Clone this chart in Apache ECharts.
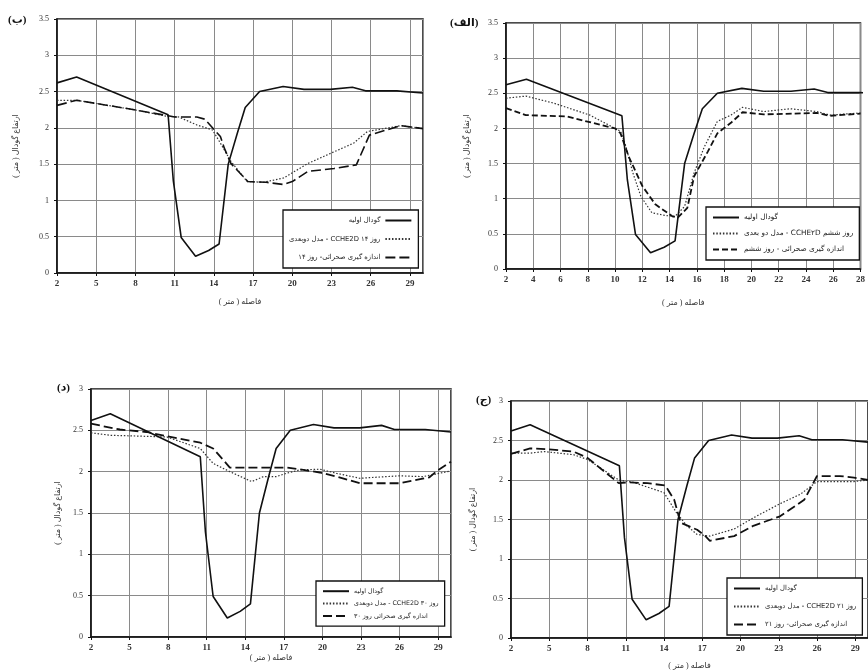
<!DOCTYPE html>
<html>
<head>
<meta charset="utf-8">
<script src="https://cdn.jsdelivr.net/npm/echarts@6/dist/echarts.min.js"></script>
<style>
html,body{margin:0;padding:0;background:#fff;}
#c{width:868px;height:671px;}
</style>
</head>
<body>
<div id="c"></div>
<script>
// ---------- data ----------
const initialX = [2, 3.5, 10.5, 10.9, 11.5, 12.6, 13.6, 14.4, 15.1, 15.8, 16.4, 17.5, 19.3, 20.9, 22.9, 24.6, 25.6, 28, 30];
const initialY = [2.62, 2.70, 2.18, 1.27, 0.49, 0.23, 0.31, 0.40, 1.50, 1.93, 2.28, 2.50, 2.57, 2.53, 2.53, 2.56, 2.51, 2.51, 2.48];

// (الف) day 6
const d6ModelX = [2, 3.45, 5.5, 8.15, 10.0, 10.4, 10.8, 11.3, 11.9, 12.7, 13.7, 14.4, 15.1, 15.8, 16.55, 17.5, 18.5, 19.35, 20.9, 22.85, 24.8, 25.75, 28];
const d6ModelY = [2.43, 2.46, 2.36, 2.19, 2.0, 1.96, 1.74, 1.37, 1.03, 0.80, 0.76, 0.75, 0.89, 1.37, 1.74, 2.10, 2.19, 2.30, 2.24, 2.28, 2.24, 2.19, 2.22];
const d6MeasX = [2, 3.45, 6.45, 10.0, 10.4, 11.0, 12.0, 12.95, 14.2, 14.6, 15.3, 15.8, 16.8, 17.5, 18.5, 19.35, 20.9, 24.8, 25.75, 28];
const d6MeasY = [2.29, 2.19, 2.17, 2.0, 1.93, 1.60, 1.18, 0.92, 0.75, 0.73, 0.87, 1.32, 1.67, 1.93, 2.08, 2.23, 2.20, 2.22, 2.18, 2.21];

// (ب) day 14
const d14ModelX = [2, 3.5, 7.9, 10.4, 11.3, 12.7, 13.9, 14.5, 15.3, 16.55, 17.8, 19.35, 21.2, 23.2, 24.7, 25.75, 28.3, 30];
const d14ModelY = [2.38, 2.38, 2.25, 2.16, 2.15, 2.04, 1.97, 1.79, 1.54, 1.26, 1.25, 1.31, 1.51, 1.67, 1.79, 1.95, 2.03, 1.99];
const d14MeasX = [2, 3.5, 7.9, 10.4, 11.0, 12.7, 13.3, 14.5, 14.8, 15.3, 16.6, 18.0, 19.3, 20.0, 21.2, 23.2, 24.9, 25.9, 28.3, 30];
const d14MeasY = [2.31, 2.38, 2.25, 2.17, 2.15, 2.15, 2.12, 1.88, 1.72, 1.51, 1.26, 1.25, 1.22, 1.26, 1.40, 1.44, 1.49, 1.90, 2.03, 1.99];

// (ج) day 21
const d21ModelX = [2, 3.5, 4.6, 6.9, 8.0, 10.45, 11.6, 14.0, 15.0, 15.8, 16.6, 17.6, 19.5, 21.0, 23.1, 24.7, 26.0, 28.9, 30];
const d21ModelY = [2.34, 2.34, 2.36, 2.32, 2.26, 2.0, 1.97, 1.84, 1.58, 1.42, 1.31, 1.29, 1.38, 1.52, 1.70, 1.82, 1.98, 1.98, 2.0];
const d21MeasX = [2, 3.5, 4.8, 6.9, 8.0, 10.45, 11.1, 12.7, 14.1, 14.8, 15.3, 16.6, 17.25, 17.6, 19.5, 21.0, 23.1, 25.0, 26.0, 27.8, 28.9, 30];
const d21MeasY = [2.33, 2.40, 2.39, 2.36, 2.28, 1.96, 1.97, 1.96, 1.93, 1.75, 1.46, 1.37, 1.29, 1.23, 1.29, 1.42, 1.54, 1.75, 2.05, 2.05, 2.03, 2.0];

// (د) day 30
const d30ModelX = [2, 3.5, 5.8, 7.9, 10.5, 11.5, 12.8, 14.5, 15.4, 16.4, 17.2, 18.2, 19.8, 21.1, 22.9, 26.0, 27.8, 28.5, 30];
const d30ModelY = [2.47, 2.44, 2.43, 2.42, 2.28, 2.10, 2.0, 1.88, 1.94, 1.94, 1.98, 2.02, 2.03, 1.98, 1.92, 1.95, 1.94, 1.96, 2.01];
const d30MeasX = [2, 4.25, 6.3, 7.9, 10.5, 11.5, 12.8, 14.6, 17.2, 18.2, 19.8, 21.1, 22.9, 26.0, 27.6, 28.3, 29, 30];
const d30MeasY = [2.58, 2.51, 2.48, 2.43, 2.35, 2.28, 2.05, 2.05, 2.05, 2.03, 1.99, 1.94, 1.86, 1.86, 1.91, 1.93, 2.02, 2.12];

// text
const nameInitial = 'گودال اولیه';
const name6Model = 'مدل دو بعدی - CCHE۲D روز ششم';
const name6Meas = 'اندازه گیری صحرائی - روز ششم';
const name14Model = 'مدل دوبعدی - CCHE2D روز ۱۴';
const name14Meas = 'اندازه گیری صحرائی- روز ۱۴';
const name21Model = 'مدل دوبعدی - CCHE2D روز ۲۱';
const name21Meas = 'اندازه گیری صحرائی- روز ۲۱';
const name30Model = 'مدل دوبعدی - CCHE2D روز ۳۰';
const name30Meas = 'اندازه گیری صحرائی روز ۳۰';
const yTitle = 'ارتفاع گودال ( متر )';
const xTitle = 'فاصله ( متر )';
const panelLabels = ['(ب)', '(الف)', '(د)', '(ج)'];

// ---------- chart ----------
const zip = (xs, ys) => xs.map((x, i) => [x, ys[i]]);
const FONT = 'Liberation Serif, DejaVu Serif, DejaVu Sans, serif';

const grids = [
  {left: 57, top: 19, width: 366, height: 254},   // ب
  {left: 506, top: 23, width: 359, height: 246},  // الف
  {left: 91, top: 389, width: 360, height: 248},  // د
  {left: 511, top: 401, width: 357, height: 238}  // ج
].map(g => Object.assign(g, {show: true, borderColor: '#111', borderWidth: 1.5, backgroundColor: 'transparent'}));

const xCfg = [
  {min: 2, max: 30, interval: 3, gap: 25},
  {min: 2, max: 28, interval: 2, gap: 30},
  {min: 2, max: 30, interval: 3, gap: 17},
  {min: 2, max: 30, interval: 3, gap: 24}
];
const yCfg = [
  {max: 3.5, gap: 37},
  {max: 3.5, gap: 35},
  {max: 3, gap: 29},
  {max: 3, gap: 34}
];

const xAxes = xCfg.map((c, i) => ({
  type: 'value', gridIndex: i, min: c.min, max: c.max, interval: c.interval,
  name: xTitle, nameLocation: 'middle', nameGap: c.gap,
  nameTextStyle: {fontFamily: FONT, fontSize: 8, color: '#333'},
  axisLine: {show: true, lineStyle: {color: '#111', width: 1.5}},
  axisTick: {show: true, length: 3, lineStyle: {color: '#111'}},
  axisLabel: {fontFamily: FONT, fontSize: 9, fontWeight: 'bold', color: '#333', margin: 6,
              showMaxLabel: i === 1 ? true : false},
  splitLine: {show: true, lineStyle: {color: '#8a8a8a', width: 1}}
}));

const yAxes = yCfg.map((c, i) => ({
  type: 'value', gridIndex: i, min: 0, max: c.max, interval: 0.5,
  name: yTitle, nameLocation: 'middle', nameGap: c.gap,
  nameTextStyle: {fontFamily: FONT, fontSize: 8, color: '#333'},
  axisLine: {show: true, lineStyle: {color: '#111', width: 1.5}},
  axisTick: {show: true, length: 3, lineStyle: {color: '#111'}},
  axisLabel: {fontFamily: FONT, fontSize: 8, color: '#333', margin: 8},
  splitLine: {show: true, lineStyle: {color: '#8a8a8a', width: 1}}
}));

function solid(i) {
  return {type: 'line', name: nameInitial, xAxisIndex: i, yAxisIndex: i, data: zip(initialX, initialY),
    symbol: 'none', showSymbol: false, lineStyle: {color: '#111', width: 1.6, type: 'solid'}, itemStyle: {color: '#111'}, z: 3};
}
function dotted(i, name, xs, ys) {
  return {type: 'line', name, xAxisIndex: i, yAxisIndex: i, data: zip(xs, ys),
    symbol: 'none', showSymbol: false, lineStyle: {color: '#333', width: 1.2, type: [1.5, 1.8]}, itemStyle: {color: '#333'}, z: 2};
}
function dashed(i, name, xs, ys, dash, w) {
  return {type: 'line', name, xAxisIndex: i, yAxisIndex: i, data: zip(xs, ys),
    symbol: 'none', showSymbol: false, lineStyle: {color: '#111', width: w, type: dash}, itemStyle: {color: '#111'}, z: 2};
}

const series = [
  solid(0), dotted(0, name14Model, d14ModelX, d14ModelY), dashed(0, name14Meas, d14MeasX, d14MeasY, [10, 4], 1.6),
  solid(1), dotted(1, name6Model, d6ModelX, d6ModelY), dashed(1, name6Meas, d6MeasX, d6MeasY, [6, 3], 1.8),
  solid(2), dotted(2, name30Model, d30ModelX, d30ModelY), dashed(2, name30Meas, d30MeasX, d30MeasY, [9, 4], 1.8),
  solid(3), dotted(3, name21Model, d21ModelX, d21ModelY), dashed(3, name21Meas, d21MeasX, d21MeasY, [9, 4], 1.8)
];

function legend(left, top, names, align, gap, fs) {
  return {
    orient: 'vertical', left, top, align, data: names,
    backgroundColor: '#fff', borderColor: '#111', borderWidth: 1.3,
    padding: [7, 6, 7, 6], itemGap: gap, itemWidth: 26, itemHeight: 8,
    selectedMode: false,
    itemStyle: {opacity: 0},
    textStyle: {fontFamily: 'DejaVu Sans, sans-serif', fontSize: fs, color: '#222'}
  };
}

const option = {
  animation: false,
  backgroundColor: '#fff',
  grid: grids,
  xAxis: xAxes,
  yAxis: yAxes,
  series,
  legend: [
    legend(283, 210, [nameInitial, name14Model, name14Meas], 'right', 11.5, 6.8),
    legend(706, 207, [nameInitial, name6Model, name6Meas], 'left', 9, 7.3),
    legend(316, 581, [nameInitial, name30Model, name30Meas], 'left', 6, 6.3),
    legend(727, 578, [nameInitial, name21Model, name21Meas], 'left', 11, 6.8)
  ],
  graphic: [
    {type: 'text', left: 8, top: 15, style: {text: panelLabels[0], font: 'bold 11px ' + FONT, fill: '#111'}},
    {type: 'text', left: 450, top: 18, style: {text: panelLabels[1], font: 'bold 11px ' + FONT, fill: '#111'}},
    {type: 'text', left: 57, top: 383, style: {text: panelLabels[2], font: 'bold 11px ' + FONT, fill: '#111'}},
    {type: 'text', left: 476, top: 395, style: {text: panelLabels[3], font: 'bold 11px ' + FONT, fill: '#111'}}
  ]
};

const chart = echarts.init(document.getElementById('c'), null, {renderer: 'canvas'});
chart.setOption(option);
</script>
</body>
</html>
